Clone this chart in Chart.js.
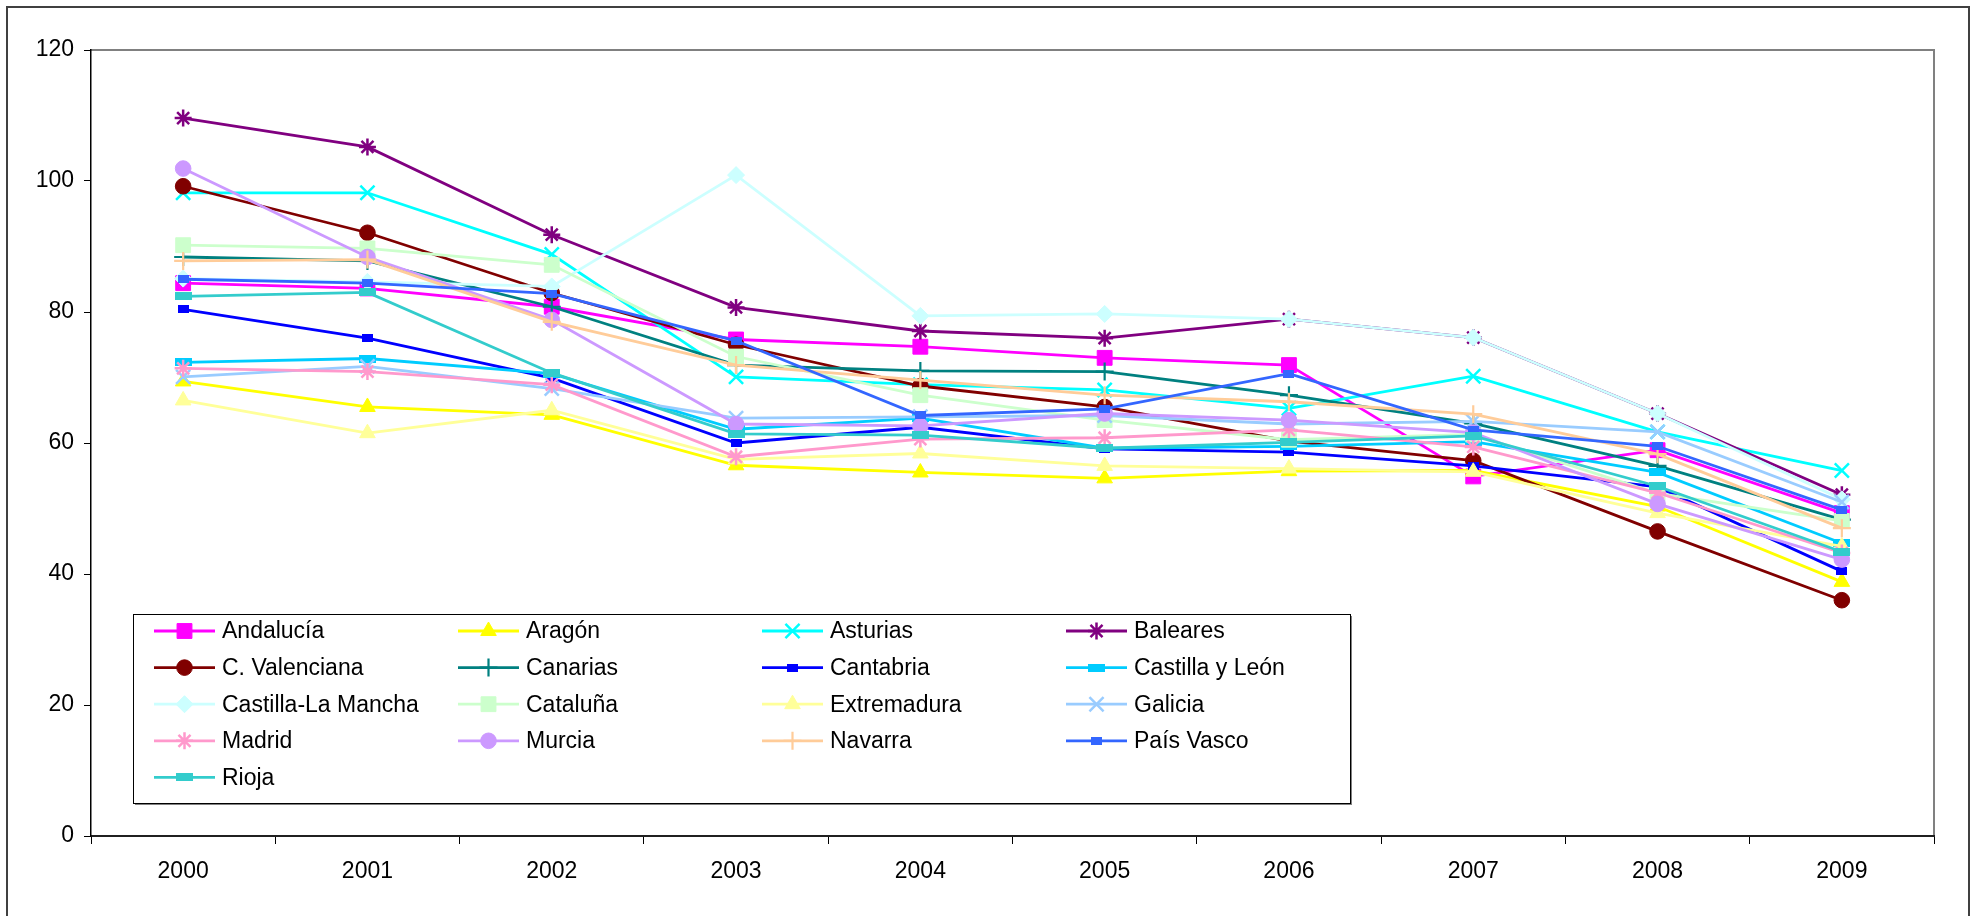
<!DOCTYPE html>
<html>
<head>
<meta charset="utf-8">
<script src="https://cdn.jsdelivr.net/npm/chart.js@4.4.0/dist/chart.umd.min.js"></script>
<style>
html, body { margin: 0; padding: 0; background: #fff; }
canvas { display: block; }
</style>
</head>
<body>
<canvas id="myChart" width="1972" height="916"></canvas>
<script>
// datos
const years = ['2000', '2001', '2002', '2003', '2004', '2005', '2006', '2007', '2008', '2009'];
const yTicks = [0, 20, 40, 60, 80, 100, 120];

const andalucia = [84.4, 83.6, 80.8, 75.8, 74.7, 73.0, 71.9, 54.9, 58.9, 49.3];
const aragon = [69.4, 65.5, 64.3, 56.6, 55.5, 54.6, 55.7, 55.8, 50.3, 38.8];
const asturias = [98.2, 98.2, 88.8, 70.1, 68.9, 68.1, 65.3, 70.2, 61.7, 55.8];
const baleares = [109.6, 105.2, 91.8, 80.7, 77.1, 76.0, 78.9, 76.1, 64.5, 52.1];
const cValenciana = [99.2, 92.1, 82.9, 75.0, 68.7, 65.5, 60.3, 57.3, 46.5, 36.0];
const canarias = [88.4, 87.8, 80.8, 71.9, 71.0, 70.9, 67.3, 63.0, 56.5, 48.3];
const cantabria = [80.4, 76.0, 69.9, 60.0, 62.4, 59.1, 58.6, 56.5, 53.3, 40.4];
const castillaLeon = [72.3, 72.9, 70.6, 62.1, 63.8, 59.2, 59.5, 60.2, 55.5, 44.7];
const castillaMancha = [85.1, 84.6, 83.9, 100.9, 79.4, 79.7, 78.9, 76.1, 64.5, 51.4];
const cataluna = [90.2, 89.7, 87.2, 73.2, 67.3, 63.5, 60.5, 61.3, 52.3, 48.1];
const extremadura = [66.5, 61.5, 65.0, 57.5, 58.4, 56.5, 56.1, 55.6, 49.3, 44.2];
const galicia = [70.1, 71.7, 68.3, 63.8, 64.0, 64.2, 62.9, 63.3, 61.7, 51.0];
const madrid = [71.4, 70.9, 68.9, 57.9, 60.6, 60.8, 62.0, 59.4, 52.4, 43.2];
const murcia = [101.9, 88.4, 78.8, 62.9, 62.6, 64.5, 63.5, 61.6, 50.7, 42.2];
const navarra = [87.8, 88.0, 78.5, 71.9, 69.6, 67.3, 66.3, 64.4, 58.3, 47.0];
const paisVasco = [85.0, 84.4, 82.8, 75.6, 64.2, 65.2, 70.6, 62.0, 59.5, 49.8];
const rioja = [82.4, 83.0, 70.7, 61.4, 61.2, 59.2, 60.1, 61.1, 53.4, 43.4];

const regiones = ['Andalucía', 'Aragón', 'Asturias', 'Baleares', 'C. Valenciana', 'Canarias',
    'Cantabria', 'Castilla y León', 'Castilla-La Mancha', 'Cataluña', 'Extremadura', 'Galicia',
    'Madrid', 'Murcia', 'Navarra', 'País Vasco', 'Rioja'];
const valores = [andalucia, aragon, asturias, baleares, cValenciana, canarias, cantabria,
    castillaLeon, castillaMancha, cataluna, extremadura, galicia, madrid, murcia, navarra,
    paisVasco, rioja];

// marcador "guion" como en excel
function guion(w, h, color) {
    var c = document.createElement('canvas');
    c.width = w;
    c.height = h;
    var g = c.getContext('2d');
    g.fillStyle = color;
    g.fillRect(0, 0, w, h);
    return c;
}

const estilos = [
    { color: '#FF00FF', marca: 'rect', r: 10.5 },
    { color: '#FFFF00', marca: 'triangle', r: 9 },
    { color: '#00FFFF', marca: 'crossRot', r: 10, linea: 2.5 },
    { color: '#800080', marca: 'star', r: 8.5, linea: 2.5 },
    { color: '#800000', marca: 'circle', r: 7.8 },
    { color: '#008080', marca: 'cross', r: 9, linea: 2.2 },
    { color: '#0000FF', marca: guion(11, 8, '#0000FF'), r: 6 },
    { color: '#00CCFF', marca: guion(17, 8, '#00CCFF'), r: 6 },
    { color: '#CCFFFF', marca: 'rectRot', r: 8.5 },
    { color: '#CCFFCC', marca: 'rect', r: 10.5 },
    { color: '#FFFF99', marca: 'triangle', r: 9 },
    { color: '#99CCFF', marca: 'crossRot', r: 10, linea: 2.5 },
    { color: '#FF99CC', marca: 'star', r: 8.5, linea: 2.5 },
    { color: '#CC99FF', marca: 'circle', r: 7.8 },
    { color: '#FFCC99', marca: 'cross', r: 9, linea: 2.2 },
    { color: '#3366FF', marca: guion(11, 8, '#3366FF'), r: 6 },
    { color: '#33CCCC', marca: guion(17, 8, '#33CCCC'), r: 6 }
];

const FUENTE = '"Liberation Sans", Arial, sans-serif';

var datasets = [];
for (var i = 0; i < regiones.length; i++) {
    var e = estilos[i];
    datasets.push({
        label: regiones[i],
        data: valores[i],
        borderColor: e.color,
        backgroundColor: e.color,
        borderWidth: 2.8,
        tension: 0,
        pointStyle: e.marca,
        pointRadius: e.r,
        pointHoverRadius: e.r,
        pointBackgroundColor: e.color,
        pointBorderColor: e.color,
        pointBorderWidth: e.linea || 1,
        order: regiones.length - i
    });
}

// marco exterior y borde gris del area de trazado
const marcos = {
    id: 'marcos',
    beforeDraw(chart) {
        const ctx = chart.ctx, a = chart.chartArea;
        ctx.save();
        ctx.fillStyle = '#fff';
        ctx.fillRect(0, 0, chart.width, chart.height);
        ctx.strokeStyle = '#404040';
        ctx.lineWidth = 2;
        ctx.strokeRect(7, 7, 1962, 2000);
        ctx.strokeStyle = '#808080';
        ctx.lineWidth = 2;
        ctx.beginPath();
        ctx.moveTo(a.left, a.top);
        ctx.lineTo(a.right, a.top);
        ctx.lineTo(a.right, a.bottom);
        ctx.stroke();
        ctx.restore();
    }
};

// leyenda en 4 columnas dentro del grafico
const leyendaCaja = {
    id: 'leyendaCaja',
    afterDatasetsDraw(chart) {
        const ctx = chart.ctx;
        const x0 = 133, y0 = 614, w = 1217, h = 189;
        ctx.save();
        ctx.fillStyle = '#808080';
        ctx.fillRect(x0 + 2, y0 + 2, w, h);
        ctx.fillStyle = '#fff';
        ctx.fillRect(x0, y0, w, h);
        ctx.strokeStyle = '#000';
        ctx.lineWidth = 1;
        ctx.strokeRect(x0 + 0.5, y0 + 0.5, w, h);
        ctx.font = '23px ' + FUENTE;
        ctx.textBaseline = 'middle';
        ctx.textAlign = 'left';
        chart.data.datasets.forEach(function(ds, i) {
            var col = i % 4, fila = Math.floor(i / 4);
            var lx = 154 + col * 304, ly = 631 + fila * 36.6;
            ctx.strokeStyle = ds.borderColor;
            ctx.lineWidth = ds.borderWidth;
            ctx.beginPath();
            ctx.moveTo(lx, ly);
            ctx.lineTo(lx + 61, ly);
            ctx.stroke();
            ctx.fillStyle = ds.pointBackgroundColor;
            ctx.strokeStyle = ds.pointBorderColor;
            ctx.lineWidth = ds.pointBorderWidth;
            if (Chart.helpers && Chart.helpers.drawPoint) {
                Chart.helpers.drawPoint(ctx, {
                    pointStyle: ds.pointStyle,
                    radius: ds.pointRadius,
                    rotation: 0,
                    borderWidth: ds.pointBorderWidth
                }, lx + 30.5, ly);
            }
            ctx.fillStyle = '#000';
            ctx.fillText(ds.label, 222 + col * 304, ly + 1);
        });
        ctx.restore();
    }
};

const config = {
    type: 'line',
    data: {
        labels: years,
        datasets: datasets
    },
    options: {
        responsive: false,
        animation: false,
        devicePixelRatio: 1,
        layout: { padding: { left: 0, top: 50, right: 38, bottom: 0 } },
        plugins: {
            legend: { display: false },
            tooltip: { enabled: false }
        },
        scales: {
            x: {
                type: 'category',
                offset: true,
                afterFit: function(s) { s.height = 80; },
                grid: {
                    offset: true,
                    drawOnChartArea: false,
                    drawTicks: true,
                    tickLength: 8,
                    color: '#000'
                },
                border: { display: true, color: '#202020', width: 2 },
                ticks: {
                    color: '#000',
                    padding: 14,
                    maxRotation: 0,
                    font: { family: FUENTE, size: 23 }
                }
            },
            y: {
                min: 0,
                max: 120,
                afterFit: function(s) { s.width = 91; },
                afterBuildTicks: function(s) {
                    s.ticks = yTicks.map(function(v) { return { value: v }; });
                },
                grid: {
                    drawOnChartArea: false,
                    drawTicks: true,
                    tickLength: 7,
                    color: '#000'
                },
                border: { display: true, color: '#000', width: 1.5 },
                ticks: {
                    color: '#000',
                    padding: 10,
                    font: { family: FUENTE, size: 23 }
                }
            }
        }
    },
    plugins: [marcos, leyendaCaja]
};

const myChart = new Chart(document.getElementById('myChart'), config);
</script>
</body>
</html>
